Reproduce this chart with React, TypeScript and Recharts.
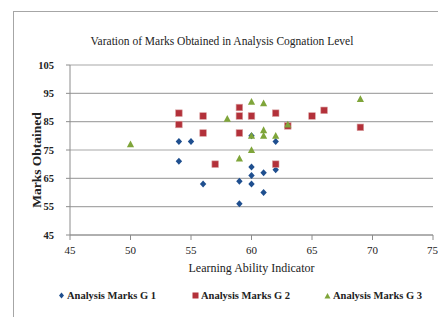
import React from "react";
import { ScatterChart, Scatter, XAxis, YAxis, CartesianGrid } from "recharts";

const xTicks = [45, 50, 55, 60, 65, 70, 75];
const yTicks = [45, 55, 65, 75, 85, 95, 105];

const marksG1 = [
  { x: 54, y: 78 }, { x: 55, y: 78 }, { x: 54, y: 71 }, { x: 56, y: 63 },
  { x: 59, y: 64 }, { x: 59, y: 56 }, { x: 60, y: 69 }, { x: 60, y: 66 },
  { x: 60, y: 63 }, { x: 60, y: 80 }, { x: 61, y: 67 }, { x: 61, y: 60 },
  { x: 62, y: 78 }, { x: 62, y: 68 },
];

const marksG2 = [
  { x: 54, y: 88 }, { x: 54, y: 84 }, { x: 56, y: 87 }, { x: 56, y: 81 },
  { x: 57, y: 70 }, { x: 59, y: 90 }, { x: 59, y: 87 }, { x: 59, y: 81 },
  { x: 60, y: 87 }, { x: 62, y: 88 }, { x: 62, y: 70 }, { x: 63, y: 83.5 },
  { x: 65, y: 87 }, { x: 66, y: 89 }, { x: 69, y: 83 },
];

const marksG3 = [
  { x: 50, y: 77 }, { x: 58, y: 86 }, { x: 59, y: 72 }, { x: 60, y: 92 },
  { x: 60, y: 80 }, { x: 60, y: 75 }, { x: 61, y: 91.5 }, { x: 61, y: 82 },
  { x: 61, y: 80 }, { x: 62, y: 80 }, { x: 63, y: 84 }, { x: 69, y: 93 },
];

const BLUE = "#1f4f8f";
const RED = "#b3313a";
const GREEN = "#7fa53a";
const FONT = "'Liberation Serif', 'DejaVu Serif', serif";

const Diamond = (p: any) => (
  <polygon points={`${p.cx},${p.cy - 3.5} ${p.cx + 3.2},${p.cy} ${p.cx},${p.cy + 3.5} ${p.cx - 3.2},${p.cy}`} fill={BLUE} />
);
const Square = (p: any) => (
  <rect x={p.cx - 3.3} y={p.cy - 3.3} width={6.6} height={6.6} fill={RED} stroke="#d9a0a0" strokeWidth={0.6} />
);
const Triangle = (p: any) => (
  <polygon points={`${p.cx},${p.cy - 3.8} ${p.cx + 3.6},${p.cy + 3} ${p.cx - 3.6},${p.cy + 3}`} fill={GREEN} />
);

const LegendItem = ({ shape, color, label }: { shape: string; color: string; label: string }) => (
  <div style={{ display: "flex", alignItems: "center", gap: 2 }}>
    <svg width={7} height={7}>
      {shape === "diamond" && <polygon points="3.5,0.5 6,3.5 3.5,6.5 1,3.5" fill={color} />}
      {shape === "square" && <rect x={0.5} y={0.5} width={6} height={6} fill={color} />}
      {shape === "triangle" && <polygon points="3.5,1 6.5,6.5 0.5,6.5" fill={color} />}
    </svg>
    <span>{label}</span>
  </div>
);

const App: React.FC = () => {
  return (
    <div style={{ position: "absolute", left: 0, top: 0, width: 438, height: 317, background: "#fff", overflow: "hidden", fontFamily: FONT }}>
      {/* chart frame */}
      <div style={{ position: "absolute", left: 13, top: 11, width: 440, height: 320, border: "1px solid #a6a6a6" }} />
      <div style={{ position: "absolute", left: 0, top: 35, width: 444, textAlign: "center", fontSize: 11.5, color: "#222" }}>
        Varation of Marks Obtained in Analysis Cognation Level
      </div>
      <div
        style={{
          position: "absolute", left: 37, top: 160, transform: "translate(-50%, -50%) rotate(-90deg)",
          whiteSpace: "nowrap", fontSize: 13.5, fontWeight: "bold", color: "#222",
        }}
      >
        Marks Obtained
      </div>
      <div style={{ position: "absolute", left: 0, top: 0 }}>
        <ScatterChart width={438} height={317} margin={{ top: 65, right: 5, bottom: 42, left: 40 }}>
          <CartesianGrid vertical={false} stroke="#a8a8a8" strokeWidth={1.2} />
          <XAxis
            type="number"
            dataKey="x"
            domain={[45, 75]}
            ticks={xTicks}
            tickSize={5}
            tickMargin={6}
            height={40}
            stroke="#8c8c8c"
            tick={{ fill: "#222", fontSize: 11, fontFamily: FONT }}
            label={{ value: "Learning Ability Indicator", position: "insideBottom", offset: 3, fill: "#222", fontSize: 12, fontFamily: FONT }}
          />
          <YAxis
            type="number"
            dataKey="y"
            domain={[45, 105]}
            ticks={yTicks}
            tickSize={4}
            tickMargin={12}
            width={30}
            stroke="#8c8c8c"
            tick={{ fill: "#222", fontSize: 10.5, fontFamily: FONT, fontWeight: "bold" }}
          />
          <Scatter name="Analysis Marks G 1" data={marksG1} fill={BLUE} shape={Diamond} isAnimationActive={false} />
          <Scatter name="Analysis Marks G 2" data={marksG2} fill={RED} shape={Square} isAnimationActive={false} />
          <Scatter name="Analysis Marks G 3" data={marksG3} fill={GREEN} shape={Triangle} isAnimationActive={false} />
        </ScatterChart>
      </div>
      <div style={{ position: "absolute", left: 0, top: 290, width: 438, fontSize: 10.5, fontWeight: "bold", color: "#222" }}>
        <div style={{ position: "absolute", left: 58 }}><LegendItem shape="diamond" color={BLUE} label="Analysis Marks G 1" /></div>
        <div style={{ position: "absolute", left: 192 }}><LegendItem shape="square" color={RED} label="Analysis Marks G 2" /></div>
        <div style={{ position: "absolute", left: 324 }}><LegendItem shape="triangle" color={GREEN} label="Analysis Marks G 3" /></div>
      </div>
    </div>
  );
};

export default App;
